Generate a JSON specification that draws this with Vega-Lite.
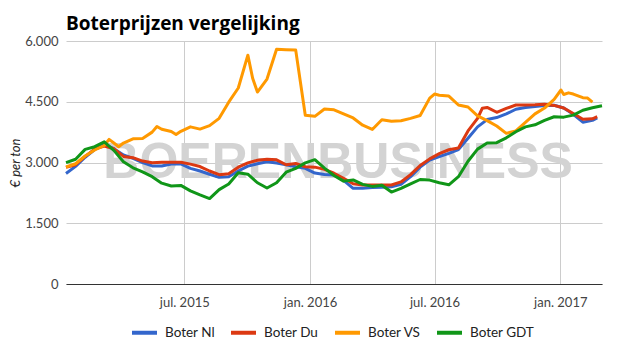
{
  "$schema": "https://vega.github.io/schema/vega-lite/v6.json",
  "autosize": "none",
  "width": 536,
  "height": 243,
  "padding": {"left": 66, "top": 41, "right": 23, "bottom": 71},
  "background": "white",
  "title": {"text": "Boterprijzen vergelijking", "anchor": "start", "frame": "group", "font": "Open Sans", "fontSize": 19, "fontWeight": "bold", "color": "#000000", "baseline": "alphabetic", "offset": 8, "dy": 22},
  "config": {"view": {"stroke": null}},
  "layer": [
    {
      "data": {"values": [{"date": "2016-02-11", "value": 2620, "label": "BOERENBUSINESS"}]},
      "mark": {"type": "text", "font": "Liberation Sans", "fontWeight": "bold", "fontSize": 50, "color": "#d3d3d3", "align": "center", "baseline": "alphabetic"},
      "encoding": {
        "x": {"field": "date", "type": "temporal"},
        "y": {"field": "value", "type": "quantitative"},
        "text": {"field": "label"}
      }
    },
    {
      "data": {"values": [
        {"date": "2015-01-09", "series": "Boter Nl", "value": 2730},
        {"date": "2015-01-23", "series": "Boter Nl", "value": 2905},
        {"date": "2015-02-06", "series": "Boter Nl", "value": 3130},
        {"date": "2015-02-20", "series": "Boter Nl", "value": 3320},
        {"date": "2015-03-06", "series": "Boter Nl", "value": 3450},
        {"date": "2015-03-20", "series": "Boter Nl", "value": 3340},
        {"date": "2015-04-03", "series": "Boter Nl", "value": 3185},
        {"date": "2015-04-17", "series": "Boter Nl", "value": 3100},
        {"date": "2015-05-01", "series": "Boter Nl", "value": 2995},
        {"date": "2015-05-15", "series": "Boter Nl", "value": 2915},
        {"date": "2015-05-29", "series": "Boter Nl", "value": 2915},
        {"date": "2015-06-12", "series": "Boter Nl", "value": 2963},
        {"date": "2015-06-26", "series": "Boter Nl", "value": 2963},
        {"date": "2015-07-10", "series": "Boter Nl", "value": 2855},
        {"date": "2015-07-24", "series": "Boter Nl", "value": 2790},
        {"date": "2015-08-07", "series": "Boter Nl", "value": 2710},
        {"date": "2015-08-21", "series": "Boter Nl", "value": 2634},
        {"date": "2015-09-04", "series": "Boter Nl", "value": 2650},
        {"date": "2015-09-18", "series": "Boter Nl", "value": 2790},
        {"date": "2015-10-02", "series": "Boter Nl", "value": 2910},
        {"date": "2015-10-16", "series": "Boter Nl", "value": 2970},
        {"date": "2015-10-30", "series": "Boter Nl", "value": 3020},
        {"date": "2015-11-13", "series": "Boter Nl", "value": 2985},
        {"date": "2015-11-27", "series": "Boter Nl", "value": 2945},
        {"date": "2015-12-11", "series": "Boter Nl", "value": 2895},
        {"date": "2015-12-25", "series": "Boter Nl", "value": 2856},
        {"date": "2016-01-08", "series": "Boter Nl", "value": 2740},
        {"date": "2016-01-22", "series": "Boter Nl", "value": 2705},
        {"date": "2016-02-05", "series": "Boter Nl", "value": 2690},
        {"date": "2016-02-19", "series": "Boter Nl", "value": 2560},
        {"date": "2016-03-04", "series": "Boter Nl", "value": 2362},
        {"date": "2016-03-18", "series": "Boter Nl", "value": 2365},
        {"date": "2016-04-01", "series": "Boter Nl", "value": 2380},
        {"date": "2016-04-15", "series": "Boter Nl", "value": 2390},
        {"date": "2016-04-29", "series": "Boter Nl", "value": 2400},
        {"date": "2016-05-13", "series": "Boter Nl", "value": 2460},
        {"date": "2016-05-27", "series": "Boter Nl", "value": 2650},
        {"date": "2016-06-10", "series": "Boter Nl", "value": 2885},
        {"date": "2016-06-24", "series": "Boter Nl", "value": 3060},
        {"date": "2016-07-08", "series": "Boter Nl", "value": 3145},
        {"date": "2016-07-22", "series": "Boter Nl", "value": 3225},
        {"date": "2016-08-05", "series": "Boter Nl", "value": 3320},
        {"date": "2016-08-19", "series": "Boter Nl", "value": 3600},
        {"date": "2016-09-02", "series": "Boter Nl", "value": 3880},
        {"date": "2016-09-16", "series": "Boter Nl", "value": 4060},
        {"date": "2016-09-30", "series": "Boter Nl", "value": 4110},
        {"date": "2016-10-14", "series": "Boter Nl", "value": 4200},
        {"date": "2016-10-28", "series": "Boter Nl", "value": 4315},
        {"date": "2016-11-11", "series": "Boter Nl", "value": 4360},
        {"date": "2016-11-25", "series": "Boter Nl", "value": 4385},
        {"date": "2016-12-09", "series": "Boter Nl", "value": 4405},
        {"date": "2016-12-23", "series": "Boter Nl", "value": 4415},
        {"date": "2017-01-06", "series": "Boter Nl", "value": 4345},
        {"date": "2017-01-20", "series": "Boter Nl", "value": 4190},
        {"date": "2017-02-03", "series": "Boter Nl", "value": 3995},
        {"date": "2017-02-17", "series": "Boter Nl", "value": 4040},
        {"date": "2017-02-24", "series": "Boter Nl", "value": 4100},

        {"date": "2015-01-09", "series": "Boter Du", "value": 2880},
        {"date": "2015-01-23", "series": "Boter Du", "value": 2945},
        {"date": "2015-02-06", "series": "Boter Du", "value": 3150},
        {"date": "2015-02-20", "series": "Boter Du", "value": 3330},
        {"date": "2015-03-06", "series": "Boter Du", "value": 3405},
        {"date": "2015-03-20", "series": "Boter Du", "value": 3340},
        {"date": "2015-04-03", "series": "Boter Du", "value": 3150},
        {"date": "2015-04-17", "series": "Boter Du", "value": 3120},
        {"date": "2015-05-01", "series": "Boter Du", "value": 3035},
        {"date": "2015-05-15", "series": "Boter Du", "value": 2995},
        {"date": "2015-05-29", "series": "Boter Du", "value": 3004},
        {"date": "2015-06-12", "series": "Boter Du", "value": 3004},
        {"date": "2015-06-26", "series": "Boter Du", "value": 3004},
        {"date": "2015-07-10", "series": "Boter Du", "value": 2960},
        {"date": "2015-07-24", "series": "Boter Du", "value": 2900},
        {"date": "2015-08-07", "series": "Boter Du", "value": 2790},
        {"date": "2015-08-21", "series": "Boter Du", "value": 2700},
        {"date": "2015-09-04", "series": "Boter Du", "value": 2725},
        {"date": "2015-09-18", "series": "Boter Du", "value": 2885},
        {"date": "2015-10-02", "series": "Boter Du", "value": 2990},
        {"date": "2015-10-16", "series": "Boter Du", "value": 3055},
        {"date": "2015-10-30", "series": "Boter Du", "value": 3080},
        {"date": "2015-11-13", "series": "Boter Du", "value": 3065},
        {"date": "2015-11-27", "series": "Boter Du", "value": 2945},
        {"date": "2015-12-11", "series": "Boter Du", "value": 2975},
        {"date": "2015-12-25", "series": "Boter Du", "value": 2895},
        {"date": "2016-01-08", "series": "Boter Du", "value": 2885},
        {"date": "2016-01-22", "series": "Boter Du", "value": 2830},
        {"date": "2016-02-05", "series": "Boter Du", "value": 2735},
        {"date": "2016-02-19", "series": "Boter Du", "value": 2610},
        {"date": "2016-03-04", "series": "Boter Du", "value": 2475},
        {"date": "2016-03-18", "series": "Boter Du", "value": 2444},
        {"date": "2016-04-01", "series": "Boter Du", "value": 2444},
        {"date": "2016-04-15", "series": "Boter Du", "value": 2444},
        {"date": "2016-04-29", "series": "Boter Du", "value": 2444},
        {"date": "2016-05-13", "series": "Boter Du", "value": 2520},
        {"date": "2016-05-27", "series": "Boter Du", "value": 2700},
        {"date": "2016-06-10", "series": "Boter Du", "value": 2925},
        {"date": "2016-06-24", "series": "Boter Du", "value": 3090},
        {"date": "2016-07-08", "series": "Boter Du", "value": 3220},
        {"date": "2016-07-22", "series": "Boter Du", "value": 3315},
        {"date": "2016-08-05", "series": "Boter Du", "value": 3360},
        {"date": "2016-08-19", "series": "Boter Du", "value": 3780},
        {"date": "2016-09-02", "series": "Boter Du", "value": 4090},
        {"date": "2016-09-09", "series": "Boter Du", "value": 4340},
        {"date": "2016-09-16", "series": "Boter Du", "value": 4360},
        {"date": "2016-09-30", "series": "Boter Du", "value": 4240},
        {"date": "2016-10-14", "series": "Boter Du", "value": 4335},
        {"date": "2016-10-28", "series": "Boter Du", "value": 4420},
        {"date": "2016-11-11", "series": "Boter Du", "value": 4420},
        {"date": "2016-11-25", "series": "Boter Du", "value": 4425},
        {"date": "2016-12-09", "series": "Boter Du", "value": 4440},
        {"date": "2016-12-23", "series": "Boter Du", "value": 4410},
        {"date": "2017-01-06", "series": "Boter Du", "value": 4345},
        {"date": "2017-01-20", "series": "Boter Du", "value": 4210},
        {"date": "2017-02-03", "series": "Boter Du", "value": 4066},
        {"date": "2017-02-17", "series": "Boter Du", "value": 4080},
        {"date": "2017-02-24", "series": "Boter Du", "value": 4130},

        {"date": "2015-01-09", "series": "Boter VS", "value": 2890},
        {"date": "2015-01-23", "series": "Boter VS", "value": 2970},
        {"date": "2015-02-06", "series": "Boter VS", "value": 3160},
        {"date": "2015-02-20", "series": "Boter VS", "value": 3310},
        {"date": "2015-03-06", "series": "Boter VS", "value": 3420},
        {"date": "2015-03-13", "series": "Boter VS", "value": 3570},
        {"date": "2015-03-20", "series": "Boter VS", "value": 3480},
        {"date": "2015-03-27", "series": "Boter VS", "value": 3390},
        {"date": "2015-04-03", "series": "Boter VS", "value": 3480},
        {"date": "2015-04-17", "series": "Boter VS", "value": 3585},
        {"date": "2015-05-01", "series": "Boter VS", "value": 3595},
        {"date": "2015-05-15", "series": "Boter VS", "value": 3750},
        {"date": "2015-05-22", "series": "Boter VS", "value": 3890},
        {"date": "2015-05-29", "series": "Boter VS", "value": 3820},
        {"date": "2015-06-12", "series": "Boter VS", "value": 3765},
        {"date": "2015-06-19", "series": "Boter VS", "value": 3690},
        {"date": "2015-06-26", "series": "Boter VS", "value": 3770},
        {"date": "2015-07-10", "series": "Boter VS", "value": 3880},
        {"date": "2015-07-24", "series": "Boter VS", "value": 3825},
        {"date": "2015-08-07", "series": "Boter VS", "value": 3910},
        {"date": "2015-08-21", "series": "Boter VS", "value": 4090},
        {"date": "2015-09-04", "series": "Boter VS", "value": 4490},
        {"date": "2015-09-18", "series": "Boter VS", "value": 4840},
        {"date": "2015-10-02", "series": "Boter VS", "value": 5650},
        {"date": "2015-10-09", "series": "Boter VS", "value": 5080},
        {"date": "2015-10-16", "series": "Boter VS", "value": 4740},
        {"date": "2015-10-30", "series": "Boter VS", "value": 5060},
        {"date": "2015-11-13", "series": "Boter VS", "value": 5795},
        {"date": "2015-11-27", "series": "Boter VS", "value": 5785},
        {"date": "2015-12-11", "series": "Boter VS", "value": 5775},
        {"date": "2015-12-25", "series": "Boter VS", "value": 4165},
        {"date": "2016-01-08", "series": "Boter VS", "value": 4140},
        {"date": "2016-01-22", "series": "Boter VS", "value": 4320},
        {"date": "2016-02-05", "series": "Boter VS", "value": 4300},
        {"date": "2016-02-19", "series": "Boter VS", "value": 4200},
        {"date": "2016-03-04", "series": "Boter VS", "value": 4100},
        {"date": "2016-03-18", "series": "Boter VS", "value": 3920},
        {"date": "2016-04-01", "series": "Boter VS", "value": 3815},
        {"date": "2016-04-15", "series": "Boter VS", "value": 4055},
        {"date": "2016-04-29", "series": "Boter VS", "value": 4020},
        {"date": "2016-05-13", "series": "Boter VS", "value": 4030},
        {"date": "2016-05-27", "series": "Boter VS", "value": 4090},
        {"date": "2016-06-10", "series": "Boter VS", "value": 4160},
        {"date": "2016-06-24", "series": "Boter VS", "value": 4590},
        {"date": "2016-07-01", "series": "Boter VS", "value": 4690},
        {"date": "2016-07-08", "series": "Boter VS", "value": 4660},
        {"date": "2016-07-22", "series": "Boter VS", "value": 4640},
        {"date": "2016-08-05", "series": "Boter VS", "value": 4420},
        {"date": "2016-08-19", "series": "Boter VS", "value": 4370},
        {"date": "2016-09-02", "series": "Boter VS", "value": 4150},
        {"date": "2016-09-16", "series": "Boter VS", "value": 4035},
        {"date": "2016-09-30", "series": "Boter VS", "value": 3900},
        {"date": "2016-10-14", "series": "Boter VS", "value": 3720},
        {"date": "2016-10-28", "series": "Boter VS", "value": 3780},
        {"date": "2016-11-11", "series": "Boter VS", "value": 3990},
        {"date": "2016-11-25", "series": "Boter VS", "value": 4200},
        {"date": "2016-12-09", "series": "Boter VS", "value": 4345},
        {"date": "2016-12-23", "series": "Boter VS", "value": 4560},
        {"date": "2017-01-02", "series": "Boter VS", "value": 4790},
        {"date": "2017-01-06", "series": "Boter VS", "value": 4680},
        {"date": "2017-01-13", "series": "Boter VS", "value": 4720},
        {"date": "2017-01-20", "series": "Boter VS", "value": 4690},
        {"date": "2017-02-03", "series": "Boter VS", "value": 4600},
        {"date": "2017-02-10", "series": "Boter VS", "value": 4590},
        {"date": "2017-02-17", "series": "Boter VS", "value": 4490},

        {"date": "2015-01-09", "series": "Boter GDT", "value": 2995},
        {"date": "2015-01-23", "series": "Boter GDT", "value": 3080},
        {"date": "2015-02-06", "series": "Boter GDT", "value": 3325},
        {"date": "2015-02-20", "series": "Boter GDT", "value": 3390},
        {"date": "2015-03-06", "series": "Boter GDT", "value": 3510},
        {"date": "2015-03-20", "series": "Boter GDT", "value": 3300},
        {"date": "2015-04-03", "series": "Boter GDT", "value": 3020},
        {"date": "2015-04-17", "series": "Boter GDT", "value": 2870},
        {"date": "2015-05-01", "series": "Boter GDT", "value": 2770},
        {"date": "2015-05-15", "series": "Boter GDT", "value": 2650},
        {"date": "2015-05-29", "series": "Boter GDT", "value": 2490},
        {"date": "2015-06-12", "series": "Boter GDT", "value": 2420},
        {"date": "2015-06-26", "series": "Boter GDT", "value": 2435},
        {"date": "2015-07-10", "series": "Boter GDT", "value": 2300},
        {"date": "2015-07-24", "series": "Boter GDT", "value": 2200},
        {"date": "2015-08-07", "series": "Boter GDT", "value": 2110},
        {"date": "2015-08-21", "series": "Boter GDT", "value": 2330},
        {"date": "2015-09-04", "series": "Boter GDT", "value": 2470},
        {"date": "2015-09-18", "series": "Boter GDT", "value": 2745},
        {"date": "2015-10-02", "series": "Boter GDT", "value": 2710},
        {"date": "2015-10-16", "series": "Boter GDT", "value": 2500},
        {"date": "2015-10-30", "series": "Boter GDT", "value": 2370},
        {"date": "2015-11-13", "series": "Boter GDT", "value": 2500},
        {"date": "2015-11-27", "series": "Boter GDT", "value": 2760},
        {"date": "2015-12-11", "series": "Boter GDT", "value": 2856},
        {"date": "2015-12-25", "series": "Boter GDT", "value": 2990},
        {"date": "2016-01-08", "series": "Boter GDT", "value": 3070},
        {"date": "2016-01-22", "series": "Boter GDT", "value": 2860},
        {"date": "2016-02-05", "series": "Boter GDT", "value": 2680},
        {"date": "2016-02-19", "series": "Boter GDT", "value": 2540},
        {"date": "2016-03-04", "series": "Boter GDT", "value": 2570},
        {"date": "2016-03-18", "series": "Boter GDT", "value": 2460},
        {"date": "2016-04-01", "series": "Boter GDT", "value": 2410},
        {"date": "2016-04-15", "series": "Boter GDT", "value": 2440},
        {"date": "2016-04-29", "series": "Boter GDT", "value": 2270},
        {"date": "2016-05-13", "series": "Boter GDT", "value": 2360},
        {"date": "2016-05-27", "series": "Boter GDT", "value": 2470},
        {"date": "2016-06-10", "series": "Boter GDT", "value": 2580},
        {"date": "2016-06-24", "series": "Boter GDT", "value": 2565},
        {"date": "2016-07-08", "series": "Boter GDT", "value": 2500},
        {"date": "2016-07-22", "series": "Boter GDT", "value": 2450},
        {"date": "2016-08-05", "series": "Boter GDT", "value": 2650},
        {"date": "2016-08-19", "series": "Boter GDT", "value": 3030},
        {"date": "2016-09-02", "series": "Boter GDT", "value": 3330},
        {"date": "2016-09-16", "series": "Boter GDT", "value": 3480},
        {"date": "2016-09-30", "series": "Boter GDT", "value": 3489},
        {"date": "2016-10-14", "series": "Boter GDT", "value": 3610},
        {"date": "2016-10-28", "series": "Boter GDT", "value": 3760},
        {"date": "2016-11-11", "series": "Boter GDT", "value": 3880},
        {"date": "2016-11-25", "series": "Boter GDT", "value": 3930},
        {"date": "2016-12-09", "series": "Boter GDT", "value": 4040},
        {"date": "2016-12-23", "series": "Boter GDT", "value": 4130},
        {"date": "2017-01-06", "series": "Boter GDT", "value": 4120},
        {"date": "2017-01-20", "series": "Boter GDT", "value": 4170},
        {"date": "2017-02-03", "series": "Boter GDT", "value": 4290},
        {"date": "2017-02-17", "series": "Boter GDT", "value": 4350},
        {"date": "2017-03-03", "series": "Boter GDT", "value": 4400}
      ]},
      "mark": {"type": "line", "strokeWidth": 3, "strokeJoin": "round"},
      "encoding": {
        "x": {
          "field": "date", "type": "temporal",
          "scale": {"nice": false},
          "axis": {
            "title": null,
            "values": [{"year": 2015, "month": 7, "date": 1}, {"year": 2016, "month": 1, "date": 1}, {"year": 2016, "month": 7, "date": 1}, {"year": 2017, "month": 1, "date": 1}],
            "labelExpr": "lower(timeFormat(datum.value, '%b. %Y'))",
            "grid": true, "gridColor": "#cccccc", "gridWidth": 1,
            "domain": true, "domainColor": "#333333", "domainWidth": 1,
            "ticks": false, "tickSize": 0,
            "labelFont": "Lato", "labelFontSize": 13, "labelColor": "#444444", "labelPadding": 12
          }
        },
        "y": {
          "field": "value", "type": "quantitative",
          "scale": {"domain": [0, 6000], "nice": false, "zero": true},
          "axis": {
            "title": "€ per ton",
            "titleFont": "Lato", "titleFontSize": 13, "titleFontWeight": "normal", "titleFontStyle": "italic", "titleColor": "#222222", "titlePadding": 2,
            "values": [0, 1500, 3000, 4500, 6000],
            "labelExpr": "replace(format(datum.value, ','), ',', '.')",
            "grid": true, "gridColor": "#cccccc", "gridWidth": 1,
            "domain": false, "ticks": false, "tickSize": 0,
            "labelFont": "Lato", "labelFontSize": 13, "labelColor": "#444444", "labelPadding": 8
          }
        },
        "color": {
          "field": "series", "type": "nominal",
          "scale": {"domain": ["Boter Nl", "Boter Du", "Boter VS", "Boter GDT"], "range": ["#3366cc", "#dc3912", "#ff9900", "#109618"]},
          "legend": {
            "title": null, "orient": "none", "legendX": 64, "legendY": 277, "direction": "horizontal",
            "symbolType": "stroke", "symbolStrokeWidth": 4, "symbolSize": 625,
            "labelFont": "Lato", "labelFontSize": 13.5, "labelColor": "#222222", "labelOffset": 6,
            "columnPadding": 8
          }
        }
      }
    }
  ]
}
